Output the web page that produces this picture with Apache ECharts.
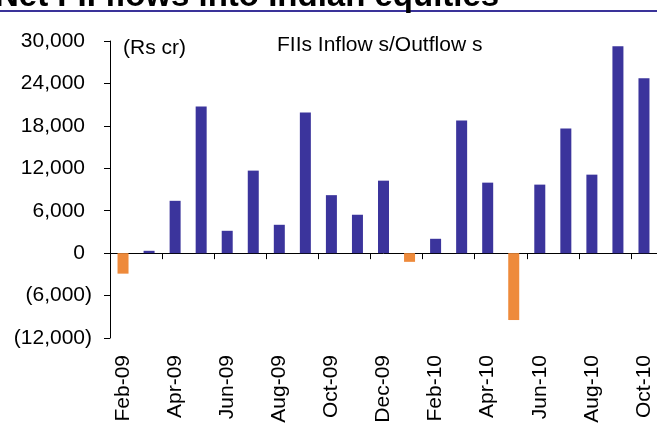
<!DOCTYPE html>
<html>
<head>
<meta charset="utf-8">
<script src="https://cdn.jsdelivr.net/npm/echarts@6/dist/echarts.min.js"></script>
<style>
  html, body { margin: 0; padding: 0; background: #fff; }
  #chart { width: 657px; height: 435px; }
</style>
</head>
<body>
<div id="chart"></div>
<script>
var categories = ['Feb-09','Mar-09','Apr-09','May-09','Jun-09','Jul-09','Aug-09','Sep-09','Oct-09','Nov-09','Dec-09',
                  'Jan-10','Feb-10','Mar-10','Apr-10','May-10','Jun-10','Jul-10','Aug-10','Sep-10','Oct-10'];
var fiiFlows = [-2900, 330, 7400, 20750, 3160, 11670, 4010, 19900, 8200, 5430, 10250,
                -1230, 2030, 18760, 9970, -9460, 9690, 17630, 11100, 29250, 24720];
var yTicks = { min: -12000, max: 30000, interval: 6000 };
var titleText = 'Net FII flows into Indian equities';
var unitText = '(Rs cr)';
var seriesText = 'FIIs Inflow s/Outflow s';

var FONT = 'Arial, "Liberation Sans", Helvetica, sans-serif';
var BLUE = '#3b349c';
var ORANGE = '#ee8a3b';

function commas(n) {
  var s = String(Math.abs(Math.round(n)));
  return s.replace(/\B(?=(\d{3})+(?!\d))/g, ',');
}

var chart = echarts.init(document.getElementById('chart'), null, { renderer: 'canvas' });
chart.setOption({
  animation: false,
  backgroundColor: '#ffffff',
  grid: { left: 110, top: 41, height: 297, width: 548, containLabel: false },
  graphic: [
    { type: 'rect', left: 0, top: 10, shape: { width: 657, height: 2 }, style: { fill: '#3a3399' } },
    { type: 'text', x: -5, y: -3, style: { text: titleText, font: 'bold 33px ' + FONT, fill: '#000', verticalAlign: 'middle' } },
    { type: 'text', x: 123, y: 48, style: { text: unitText, font: '21px ' + FONT, fill: '#000', verticalAlign: 'middle' } },
    { type: 'text', x: 277, y: 45, style: { text: seriesText, font: '21px ' + FONT, fill: '#000', verticalAlign: 'middle' } }
  ],
  xAxis: [
    {
      type: 'category', data: categories, position: 'bottom',
      axisLine: { onZero: true, lineStyle: { color: '#000', width: 1 } },
      axisTick: { show: true, interval: 1, length: 6, lineStyle: { color: '#000' } },
      axisLabel: { show: false },
      splitLine: { show: false }
    },
    {
      type: 'category', data: categories, position: 'bottom',
      axisLine: { show: false, onZero: false },
      axisTick: { show: false },
      axisLabel: { show: true, interval: 1, rotate: 90, margin: 17, color: '#000', fontSize: 21, fontFamily: FONT },
      splitLine: { show: false }
    }
  ],
  yAxis: {
    type: 'value', min: yTicks.min, max: yTicks.max, interval: yTicks.interval,
    axisLine: { show: true, lineStyle: { color: '#000', width: 1 } },
    axisTick: { show: true, length: 6, lineStyle: { color: '#000' } },
    splitLine: { show: false },
    axisLabel: {
      margin: 18, color: '#000', fontSize: 21, fontFamily: FONT,
      formatter: function (v) {
        if (v < 0) return '(' + commas(v) + ')';
        return commas(v) + '{p|}';
      },
      rich: { p: { width: 7 } }
    }
  },
  series: [{
    type: 'bar', xAxisIndex: 0, data: fiiFlows, barWidth: 11,
    itemStyle: { color: function (p) { return p.value < 0 ? ORANGE : BLUE; } }
  }]
});
</script>
</body>
</html>
